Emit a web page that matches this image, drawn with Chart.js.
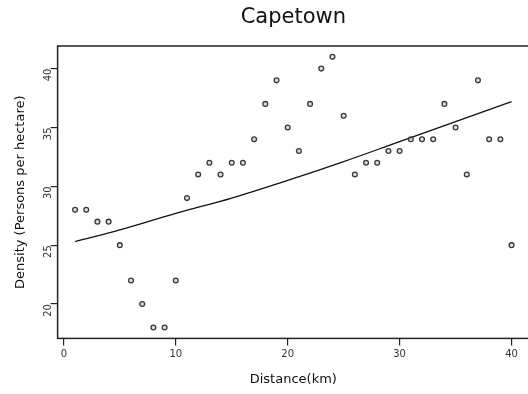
<!DOCTYPE html>
<html>
<head>
<meta charset="utf-8">
<script src="https://cdn.jsdelivr.net/npm/chart.js@4"></script>
<style>
  html, body { margin: 0; padding: 0; background: #fff; overflow: hidden; }
  #wrap { position: relative; width: 587px; height: 394px; }
</style>
</head>
<body>
<div id="wrap"><canvas id="densityChart"></canvas></div>
<script>
// distance (km) and observed density
const distance = [1, 2, 3, 4, 5, 6, 7, 8, 9, 10, 11, 12, 13, 14, 15, 16, 17, 18, 19, 20,
                  21, 22, 23, 24, 25, 26, 27, 28, 29, 30, 31, 32, 33, 34, 35, 36, 37, 38, 39, 40];
const density = [28, 28, 27, 27, 25, 22, 20, 18, 18, 22, 29, 31, 32, 31, 32, 32, 34, 37, 39, 35,
                 33, 37, 40, 41, 36, 31, 32, 32, 33, 33, 34, 34, 34, 37, 35, 31, 39, 34, 34, 25];

// fitted curve
const fitDistance = [1, 5, 10, 15, 20, 25, 30, 35, 40];
const fitDensity = [25.3, 26.3, 27.7, 29.0, 30.5, 32.1, 33.8, 35.5, 37.2];

const xTicks = [0, 10, 20, 30, 40];
const yTicks = [20, 25, 30, 35, 40];

const fontFam = '"DejaVu Sans", sans-serif';

// box around plot area + main title centred on it
const framePlugin = {
    id: 'frame',
    afterDraw(chart) {
        const { ctx, chartArea: a } = chart;
        ctx.save();
        ctx.strokeStyle = '#222';
        ctx.lineWidth = 1.5;
        ctx.strokeRect(a.left, a.top, a.right - a.left, a.bottom - a.top);
        ctx.fillStyle = '#111';
        ctx.font = '21px ' + fontFam;
        ctx.textAlign = 'center';
        ctx.textBaseline = 'middle';
        ctx.fillText('Capetown', (a.left + a.right) / 2, 18);
        ctx.restore();
    }
};

new Chart(document.getElementById('densityChart'), {
    type: 'scatter',
    data: {
        datasets: [
            {
                label: 'Density',
                data: distance.map((d, i) => ({ x: d, y: density[i] })),
                pointStyle: 'circle',
                pointRadius: 2.4,
                pointBorderWidth: 1.3,
                pointBorderColor: '#3a3a3a',
                pointBackgroundColor: 'rgba(170,170,170,0.4)',
                showLine: false
            },
            {
                label: 'Fit',
                data: fitDistance.map((d, i) => ({ x: d, y: fitDensity[i] })),
                showLine: true,
                pointRadius: 0,
                borderColor: '#111',
                borderWidth: 1.3,
                tension: 0.4
            }
        ]
    },
    options: {
        responsive: true,
        maintainAspectRatio: false,
        animation: false,
        layout: { padding: { top: 46, right: 58, left: 13, bottom: 7 } },
        plugins: {
            legend: { display: false },
            tooltip: { enabled: false }
        },
        scales: {
            x: {
                type: 'linear',
                min: -0.56,
                max: 41.56,
                afterBuildTicks: s => { s.ticks = xTicks.map(v => ({ value: v })); },
                border: { display: false },
                grid: { drawOnChartArea: false, drawTicks: true, tickLength: 7, color: '#222', lineWidth: 1.2 },
                ticks: { color: '#333', font: { family: fontFam, size: 10 }, padding: 3, maxRotation: 0 },
                title: { display: true, text: 'Distance(km)', color: '#111', font: { family: fontFam, size: 13 }, padding: { top: 8, bottom: 0 } }
            },
            y: {
                type: 'linear',
                min: 17.08,
                max: 41.92,
                afterBuildTicks: s => { s.ticks = yTicks.map(v => ({ value: v })); },
                border: { display: false },
                grid: { drawOnChartArea: false, drawTicks: true, tickLength: 7, color: '#222', lineWidth: 1.2 },
                ticks: { color: '#333', font: { family: fontFam, size: 10 }, padding: 2, minRotation: 90, maxRotation: 90 },
                title: { display: true, text: 'Density (Persons per hectare)', color: '#111', font: { family: fontFam, size: 13 }, padding: { top: 0, bottom: 6 } }
            }
        }
    },
    plugins: [framePlugin]
});
</script>
</body>
</html>
